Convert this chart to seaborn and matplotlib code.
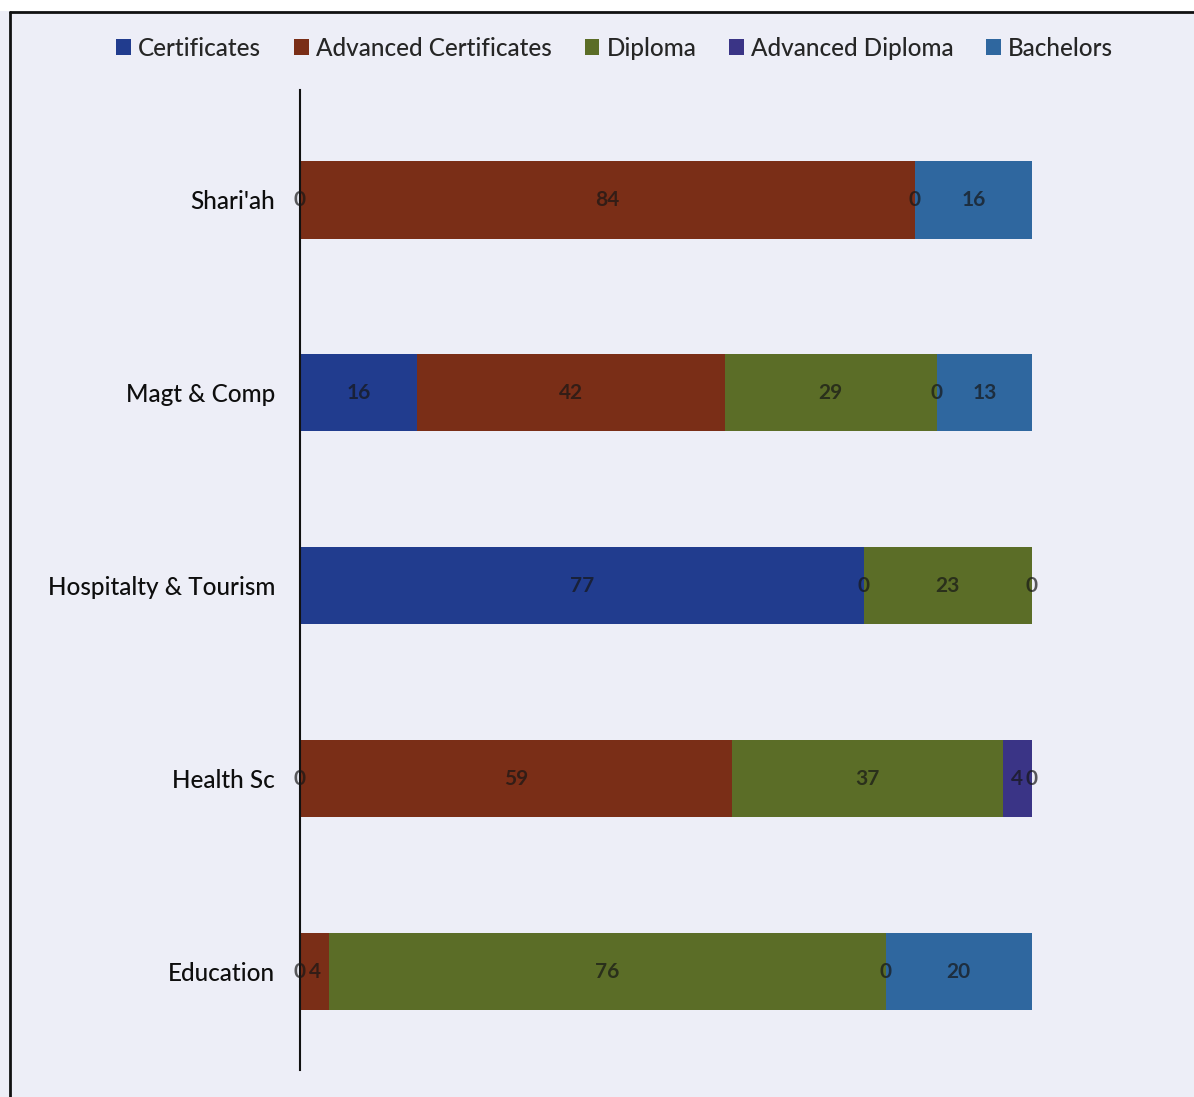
import numpy as np
import pandas as pd
import matplotlib
matplotlib.use("Agg")
import matplotlib.pyplot as plt
from matplotlib.lines import Line2D
from matplotlib.patches import Patch
import seaborn as sns

categories = ["Shari'ah", "Magt & Comp", "Hospitalty & Tourism", "Health Sc", "Education"]
series = ["Certificates", "Advanced Certificates", "Diploma", "Advanced Diploma", "Bachelors"]
certificates = [0, 16, 77, 0, 0]
advanced_certificates = [84, 42, 0, 59, 4]
diploma = [0, 29, 23, 37, 76]
advanced_diploma = [np.nan, 0, np.nan, 4, 0]
bachelors = [16, 13, 0, 0, 20]
colors = ["#213C8E", "#7A2E17", "#5B6D27", "#3A3486", "#2F679F"]

values = [certificates, advanced_certificates, diploma, advanced_diploma, bachelors]

sns.set_theme(style="white")
plt.rcParams['font.family'] = ['Lato', 'DejaVu Sans']

bg = "#EDEEF7"
fig = plt.figure(figsize=(11.94, 10.97), dpi=100, facecolor=bg)
W, H = 1194, 1097
ax = fig.add_axes([300 / W, (H - 1070) / H, 732 / W, (1070 - 90) / H])
ax.set_facecolor(bg)

vals = np.array([[0 if np.isnan(v) else v for v in s] for s in np.array(values, dtype=float)])
cum = np.cumsum(vals, axis=0)

# draw cumulative bars from last to first so they stack visually
for i in range(len(series) - 1, -1, -1):
    df = pd.DataFrame({"cat": categories, "val": cum[i]})
    sns.barplot(data=df, y="cat", x="val", orient="h", color=colors[i],
                width=0.40, saturation=1, ax=ax, linewidth=0, errorbar=None)

# data labels
raw = np.array(values, dtype=float)
for i in range(len(series)):
    start = cum[i] - vals[i]
    for j in range(len(categories)):
        v = raw[i][j]
        if np.isnan(v):
            continue
        xc = start[j] + vals[i][j] / 2
        ax.text(xc, j, f"{int(v)}", ha="center", va="center", fontsize=15,
                fontweight="bold", color="#161616", alpha=0.7)

ax.set_xlim(0, 100)
ax.set_ylim(4.51, -0.57)
ax.set_xlabel("")
ax.set_ylabel("")
ax.set_xticks([])
for s in ["top", "right", "bottom"]:
    ax.spines[s].set_visible(False)
ax.spines["left"].set_color("#111111")
ax.spines["left"].set_linewidth(1.5)
ax.tick_params(axis="y", length=0, pad=18, labelsize=17.5, labelcolor="#0e0e0e")
for lbl in ax.get_yticklabels():
    lbl.set_fontweight("medium")

handles = [Patch(facecolor=c, edgecolor="none") for c in colors]
fig.legend(handles, series, loc="center", bbox_to_anchor=(0.515, (H - 48) / H),
           ncol=5, frameon=False, handlelength=0.6, handleheight=0.6,
           handletextpad=0.3, columnspacing=1.35,
           prop={"size": 17.5, "weight": "medium"})

# outer frame
fig.add_artist(Line2D([10 / W, 10 / W], [0, (H - 12) / H], color="#111111", lw=2))
fig.add_artist(Line2D([10 / W, 1], [(H - 12) / H, (H - 12) / H], color="#111111", lw=2))
fig.patches.append(plt.Rectangle((0, (H - 11) / H), 1, 11 / H, transform=fig.transFigure,
                                 facecolor="white", edgecolor="none", zorder=-1))

fig.savefig("out.png", dpi=100, facecolor=bg)
